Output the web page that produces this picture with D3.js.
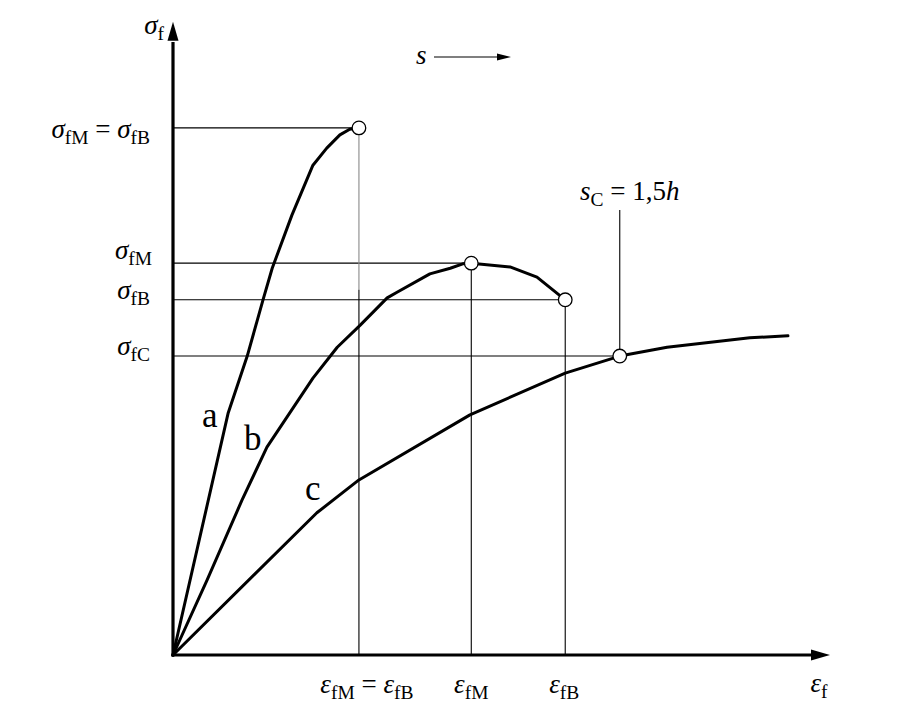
<!DOCTYPE html>
<html>
<head>
<meta charset="utf-8">
<script src="https://cdn.jsdelivr.net/npm/d3@7"></script>
<style>
  html, body { margin: 0; padding: 0; background: #fff; }
  svg { display: block; }
  text { font-family: "Liberation Serif", "DejaVu Serif", serif; fill: #000; }
</style>
</head>
<body>
<svg id="chart" width="897" height="727"></svg>
<script>
// ---------- data (arbitrary units, 0..100 on both axes) ----------
const curveA_x = [0, 8.4, 11.3, 13.7, 15.1, 18.1, 21.3, 23.4, 25.4, 26.9, 28.3];
const curveA_y = [0, 38.3, 47.3, 56.2, 61.2, 69.6, 77.5, 80.2, 82.3, 83.2, 83.4];

const curveB_x = [0, 5.2, 10.5, 14.3, 21.3, 25.0, 28.5, 32.6, 34.1, 39.1, 42.2, 44.1, 45.4, 51.3, 55.4, 59.7];
const curveB_y = [0, 11.9, 24.5, 32.9, 43.8, 48.7, 52.2, 56.5, 57.4, 60.3, 61.2, 61.9, 62.0, 61.4, 59.8, 56.2];

const curveC_x = [0, 21.9, 28.3, 45.2, 59.7, 68.0, 75.2, 87.8, 93.6];
const curveC_y = [0, 22.5, 27.7, 38.0, 44.6, 47.3, 48.7, 50.2, 50.5];

// characteristic strains: eps_fM = eps_fB (a), eps_fM (b), eps_fB (b), s_C point (c)
const markStrain = [28.3, 45.4, 59.7, 68.0];
// characteristic stresses: sigma_fM = sigma_fB (a), sigma_fM (b), sigma_fB (b), sigma_fC (c)
const markStress = [83.4, 62.0, 56.2, 47.3];
const sCtop = 70.4;       // top of the s_C leader line
const greyUntil = 57.8;   // upper part of first vertical drawn grey

const curveNames = ["a", "b", "c"];

// ---------- scales ----------
const svg = d3.select("#chart");
const x = d3.scaleLinear().domain([0, 100]).range([173, 830]);
const y = d3.scaleLinear().domain([0, 100]).range([655, 23]);

const zip = (xs, ys) => xs.map((v, i) => [v, ys[i]]);
const curves = [zip(curveA_x, curveA_y), zip(curveB_x, curveB_y), zip(curveC_x, curveC_y)];

// ---------- reference lines ----------
const ref = svg.append("g").attr("stroke", "#000").attr("stroke-width", 1.1).attr("fill", "none");
function seg(x1, y1, x2, y2, col) {
  ref.append("line").attr("x1", x(x1)).attr("y1", y(y1)).attr("x2", x(x2)).attr("y2", y(y2))
     .attr("stroke", col || "#000");
}
// horizontals
seg(0, markStress[0], markStrain[0], markStress[0]);
seg(0, markStress[1], markStrain[1], markStress[1]);
seg(0, markStress[2], markStrain[2], markStress[2]);
seg(0, markStress[3], markStrain[3], markStress[3]);
// verticals
seg(markStrain[0], markStress[0], markStrain[0], greyUntil, "#8a8a8a");
seg(markStrain[0], greyUntil, markStrain[0], 0);
seg(markStrain[1], markStress[1], markStrain[1], 0);
seg(markStrain[2], markStress[2], markStrain[2], 0);
seg(markStrain[3], sCtop, markStrain[3], markStress[3]);

// ---------- curves ----------
const line = d3.line().x(d => x(d[0])).y(d => y(d[1])).curve(d3.curveLinear);
svg.append("g").selectAll("path").data(curves).join("path")
  .attr("d", line).attr("fill", "none").attr("stroke", "#000")
  .attr("stroke-width", 3).attr("stroke-linejoin", "round").attr("stroke-linecap", "round");

// ---------- axes ----------
const axes = svg.append("g");
axes.append("line").attr("x1", x(0)).attr("y1", y(0) + 1.5).attr("x2", x(0)).attr("y2", y(97))
  .attr("stroke", "#000").attr("stroke-width", 3.2);
axes.append("line").attr("x1", x(0) - 1.5).attr("y1", y(0)).attr("x2", x(97.5)).attr("y2", y(0))
  .attr("stroke", "#000").attr("stroke-width", 3.2);
// arrowheads
const yTip = [x(0), y(100.2)];
axes.append("path").attr("d", `M${yTip[0]},${yTip[1]} L${yTip[0] - 5.5},${yTip[1] + 19} L${yTip[0] + 5.5},${yTip[1] + 19} Z`);
const xTip = [x(100), y(0)];
axes.append("path").attr("d", `M${xTip[0]},${xTip[1]} L${xTip[0] - 19},${xTip[1] - 5.5} L${xTip[0] - 19},${xTip[1] + 5.5} Z`);

// ---------- markers ----------
const pts = [
  [markStrain[0], markStress[0]],
  [markStrain[1], markStress[1]],
  [markStrain[2], markStress[2]],
  [markStrain[3], markStress[3]]
];
svg.append("g").selectAll("circle").data(pts).join("circle")
  .attr("cx", d => x(d[0])).attr("cy", d => y(d[1])).attr("r", 6.8)
  .attr("fill", "#fff").attr("stroke", "#000").attr("stroke-width", 1.3);

// ---------- labels ----------
function label(px, py, parts, anchor, size) {
  size = size || 27;
  const t = svg.append("text").attr("x", px).attr("y", py)
    .attr("text-anchor", anchor || "start").attr("font-size", size);
  let shifted = false;
  parts.forEach(p => {
    const s = t.append("tspan").text(p.t);
    if (p.it) s.attr("font-style", "italic");
    if (p.sub) {
      s.attr("font-size", size * 0.72);
      if (!shifted) { s.attr("dy", size * 0.22); shifted = true; }
    } else if (shifted) {
      s.attr("dy", -size * 0.22); shifted = false;
    }
  });
  return t;
}
const sig = {t: "σ", it: true};
const eps = {t: "ε", it: true};

// y-axis title
label(x(0) - 9, y(98.2), [sig, {t: "f", sub: true}], "end");
// stress marks
label(150, y(markStress[0]) + 10, [sig, {t: "fM", sub: true}, {t: " = "}, sig, {t: "fB", sub: true}], "end");
label(152, y(markStress[1]) - 4, [sig, {t: "fM", sub: true}], "end");
label(150, y(markStress[2]) - 1, [sig, {t: "fB", sub: true}], "end");
label(150, y(markStress[3]) - 1, [sig, {t: "fC", sub: true}], "end");
// strain marks
label(x(markStrain[0]) + 8, 693, [eps, {t: "fM", sub: true}, {t: " = "}, eps, {t: "fB", sub: true}], "middle");
label(x(markStrain[1]), 693, [eps, {t: "fM", sub: true}], "middle");
label(x(markStrain[2]) - 1, 693, [eps, {t: "fB", sub: true}], "middle");
label(819, 692, [eps, {t: "f", sub: true}], "middle");

// s arrow
label(416, 64, [{t: "s", it: true}]);
svg.append("line").attr("x1", 434).attr("y1", 57).attr("x2", 500).attr("y2", 57)
  .attr("stroke", "#000").attr("stroke-width", 1.1);
svg.append("path").attr("d", "M511,57 L497,53.5 L497,60.5 Z");

// s_C label
label(580, 200, [{t: "s", it: true}, {t: "C", sub: true}, {t: " = 1,5"}, {t: "h", it: true}]);

// curve names
const namePos = [[202, 427], [244, 450], [305, 500]];
svg.append("g").selectAll("text").data(curveNames).join("text")
  .attr("x", (d, i) => namePos[i][0]).attr("y", (d, i) => namePos[i][1])
  .attr("font-size", 35).text(d => d);
</script>
</body>
</html>
